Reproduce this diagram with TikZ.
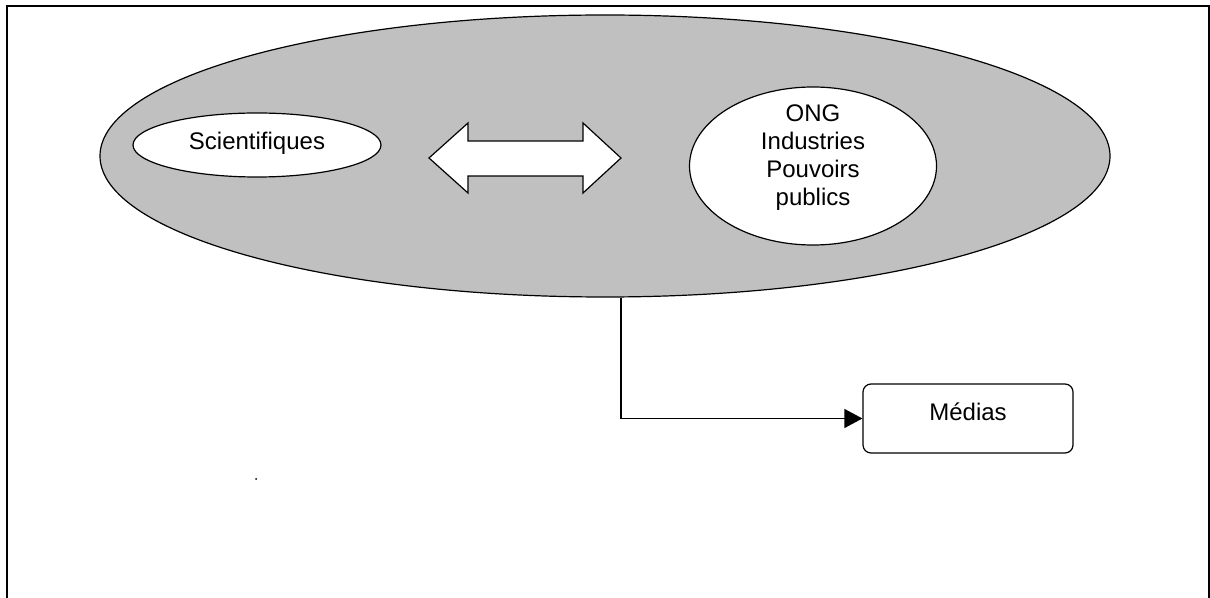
\documentclass[tikz,border=0pt]{standalone}
\usepackage{fontspec}
\setmainfont{Liberation Sans}
\usetikzlibrary{arrows.meta,shapes.geometric}
\definecolor{zonegray}{HTML}{C0C0C0}
\begin{document}
\begin{tikzpicture}[x=0.5pt,y=-0.5pt,
    outline/.style={draw=black,line width=0.6pt},
    bubble/.style={outline,ellipse,fill=white,inner sep=0pt},
    caption/.style={inner sep=0pt,align=center,font=\fontsize{12}{14}\selectfont},
    flow/.style={line width=0.6pt,-{Triangle[length=9pt,width=9.5pt]}}]
  \useasboundingbox (0,0) rectangle (1210,598);
  % page frame (open at the bottom edge)
  \draw[line width=1pt] (7,640) -- (7,6) -- (1209,6) -- (1209,640);
  % grey zone holding the actors
  \node[outline,ellipse,fill=zonegray,inner sep=0pt,
        minimum width=505pt,minimum height=141pt] (zone) at (605,156) {};
  % the two groups of actors
  \node[bubble,minimum width=124pt,minimum height=32pt] (sci) at (257,145) {};
  \node[caption] (scitext) at (257,143) {Scientifiques};
  \node[bubble,minimum width=123.5pt,minimum height=79pt] (ong) at (813,166) {};
  \node[caption] (ongtext) at (813,158) {ONG\\Industries\\Pouvoirs\\publics};
  % two-way exchange between them
  \draw[outline,fill=white,line join=miter]
    (429,158) -- (468,123) -- (468,141) -- (583,141) -- (583,123) --
    (621,158) -- (583,193) -- (583,176) -- (468,176) -- (468,193) -- cycle;
  % media box
  \node[outline,rounded corners=4pt,minimum width=105pt,minimum height=34.5pt,
        inner sep=0pt] (medias) at (968,418.5) {};
  \node[caption] (mediastext) at (968,412) {Médias};
  % connector from the zone down to the media
  \draw[flow] ([xshift=8pt]zone.south) |- (medias.west);
  % stray dot
  \fill (256,479) circle[radius=0.5pt];
\end{tikzpicture}
\end{document}
